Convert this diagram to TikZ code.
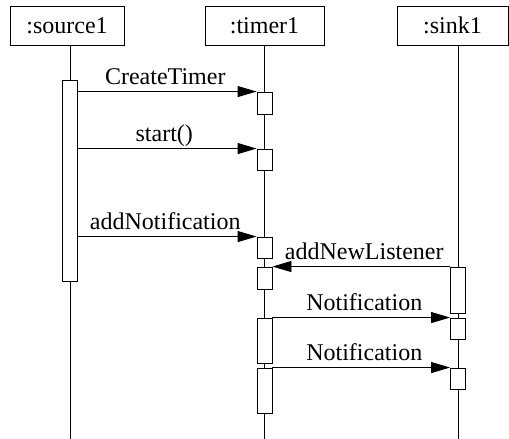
\documentclass[tikz,border=0pt]{standalone}
\usepackage{fontspec}
\setmainfont{Liberation Serif}
\usetikzlibrary{arrows.meta}
\begin{document}
\begin{tikzpicture}[x=1pt,y=-1pt,line width=0.9pt,
  every node/.style={font=\fontsize{24}{28}\selectfont},
  hdr/.style={draw,rectangle,inner sep=0pt,minimum height=39pt},
  act/.style={draw,fill=white,rectangle,inner sep=0pt,minimum width=15pt},
  msg/.style={-{Triangle[length=19pt,width=11pt]}},
  lbl/.style={midway,anchor=base,yshift=7pt,inner sep=0pt}]
\useasboundingbox (0,0) rectangle (509,439);
% headers
\node[hdr,minimum width=114pt] (src) at (67,25.5) {:source1};
\node[hdr,minimum width=119pt] (tim) at (264.5,25.5) {:timer1};
\node[hdr,minimum width=111pt] (snk) at (452.5,25.5) {:sink1};
% lifeline ends
\coordinate (srcEnd) at (70,439);
\coordinate (timEnd) at (264.5,439);
\coordinate (snkEnd) at (458,439);
\draw (src.south -| srcEnd) -- (srcEnd);
\draw (tim.south -| timEnd) -- (timEnd);
\draw (snk.south -| snkEnd) -- (snkEnd);
% activations
\node[act,minimum height=201pt] (sa) at (70,180.5) {};
\node[act,minimum height=22pt] (t1) at (264.5,103) {};
\node[act,minimum height=21pt] (t2) at (264.5,159.5) {};
\node[act,minimum height=21pt] (t3) at (264.5,247.5) {};
\node[act,minimum height=22pt] (t4) at (264.5,278) {};
\node[act,minimum height=45pt] (t5) at (264.5,340.5) {};
\node[act,minimum height=45pt] (t6) at (264.5,390.5) {};
\node[act,minimum height=46pt] (k1) at (458,290) {};
\node[act,minimum height=21pt] (k2) at (458,328.5) {};
\node[act,minimum height=21pt] (k3) at (458,378.5) {};
% messages
\draw[msg] (sa.east |- t1.north) -- (t1.north west) node[lbl,xshift=-2pt] {CreateTimer};
\draw[msg] (sa.east |- t2.north) -- (t2.north west) node[lbl,xshift=-3pt] {start()};
\draw[msg] (sa.east |- t3.north) -- (t3.north west) node[lbl,xshift=-2pt] {addNotification};
\draw[msg] (k1.north west) -- (t4.north east) node[lbl,xshift=3pt] {addNewListener};
\draw[msg] (t5.north east) -- (k2.north west) node[lbl,xshift=3pt] {Notification};
\draw[msg] (t6.north east) -- (k3.north west) node[lbl,xshift=3pt] {Notification};
\end{tikzpicture}
\end{document}
